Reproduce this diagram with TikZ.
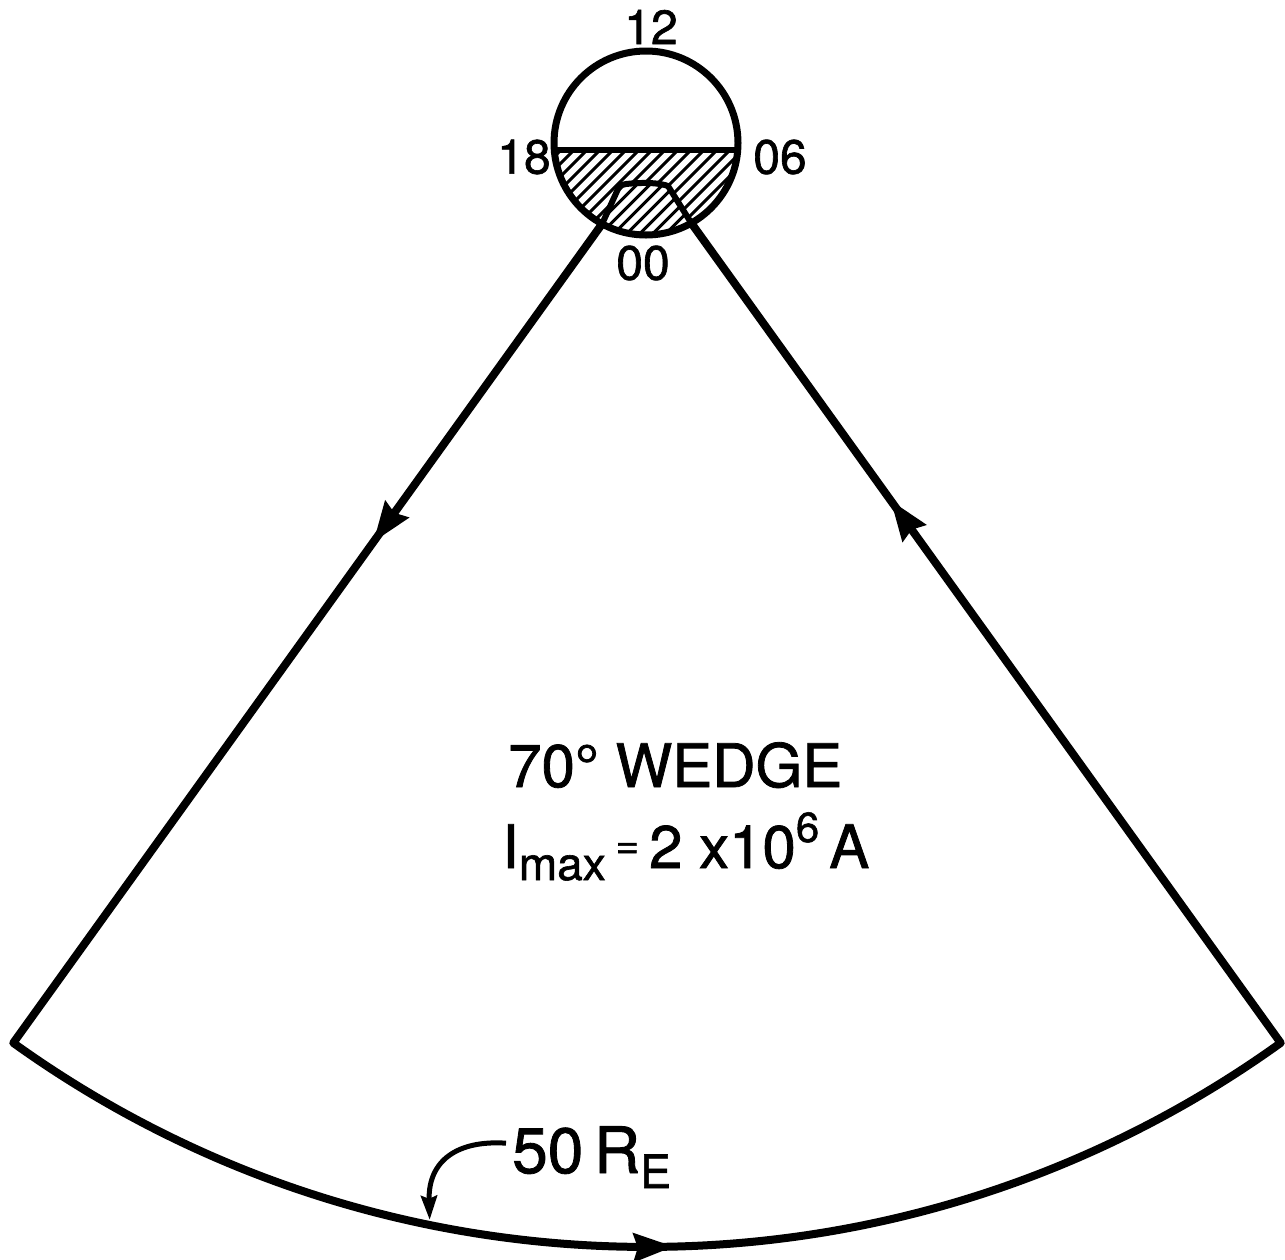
\documentclass[tikz,border=0pt]{standalone}
\usepackage{fontspec}
\setmainfont{TeX Gyre Heros}
\newfontfamily\lettering[FakeBold=1.3]{TeX Gyre Heros}
\usetikzlibrary{arrows.meta,decorations.markings}
\begin{document}
\begin{tikzpicture}[x=1pt,y=1pt,
  wedgeline/.style={line width=8pt, line join=round, line cap=round},
  hatchline/.style={line width=3pt},
  innerline/.style={line width=6pt, line join=round},
  headtip/.tip={Stealth[length=40pt,width=28pt,inset=4pt]},
  clocklbl/.style={inner sep=0pt, font=\lettering\fontsize{48}{48}\selectfont},
  textlbl/.style={inner sep=0pt, anchor=base west, font=\lettering\fontsize{60}{60}\selectfont},
  flowarrows/.style={postaction={decorate, decoration={markings,
     mark=at position 392pt with {\arrow{headtip}},
     mark=at position 1712pt with {\arrow{headtip}},
     mark=at position 3030pt with {\arrow{headtip}}}}}
]
\useasboundingbox (0,0) rectangle (1285,-1259);
\coordinate (C) at (646,-143);
\coordinate (A) at (647,-161);
\path (C) ++(241.5:92) coordinate (Lc);
\path (C) ++(299.5:92) coordinate (Rc);
\path (C) ++(-175.64:92) coordinate (ChL);
\path (C) ++(-4.36:92) coordinate (ChR);
\path (A) ++(234.3:1086) coordinate (L);
\path (A) ++(305.7:1086) coordinate (R);
\path (A) ++(258.4:1081) coordinate (tipE);
\coordinate (K1) at (618,-189);
\coordinate (K2) at (626,-184);
\coordinate (K3) at (668,-186);

% hatching of the night half
\begin{scope}
  \clip (ChR) arc[start angle=-4.36, end angle=-175.64, radius=92] -- cycle;
  \foreach \i in {-16,...,16}
    \draw[hatchline] ({646+13*\i-150},-293) -- ++(300,300);
\end{scope}
% inner region, hatched separately
\fill[white] (Lc) -- (K1) -- (K2) -- (K3) -- (Rc) arc[start angle=299.5, end angle=241.5, radius=92] -- cycle;
\begin{scope}
  \clip (Lc) -- (K1) -- (K2) -- (K3) -- (Rc) arc[start angle=299.5, end angle=241.5, radius=92] -- cycle;
  \foreach \i in {-16,...,16}
    \draw[hatchline] ({652.5+13*\i-150},-293) -- ++(300,300);
\end{scope}
\draw[innerline] (Lc) -- (K1) .. controls (621,-185) and (623,-184) .. (K2) .. controls (645,-182) and (660,-183) .. (K3) -- (Rc);

% earth
\node[draw, circle, line width=7pt, minimum size=184pt, inner sep=0pt, outer sep=0pt] (earth) at (C) {};
\draw[line width=6pt] (ChL) -- (ChR);

% wedge
\draw[wedgeline, flowarrows] (Lc) -- (L) arc[start angle=234.3, end angle=305.7, radius=1086] -- (Rc);

% clock labels
\node[clocklbl] (n12) at (651,-27) {12};
\node[clocklbl] (n18) at (524,-157) {18};
\node[clocklbl] (n06) at (780,-157) {06};
\node[clocklbl] (n00) at (643,-263) {00};

% texts
\node[textlbl] (wedge) at (508,-787) {70° WEDGE};
\node[textlbl] (imax) at (502,-868) {I\raisebox{-12pt}{\fontsize{46}{46}\selectfont max}\,\raisebox{10pt}{\fontsize{40}{40}\selectfont =}\,2 x10\raisebox{26pt}{\fontsize{42}{42}\selectfont 6}\,A};
\node[textlbl, font=\lettering\fontsize{64}{64}\selectfont] (re) at (512,-1173) {50\,R\raisebox{-15pt}{\fontsize{46}{46}\selectfont E}};

\draw[line width=5pt, -{Stealth[length=24pt,width=16pt,inset=3pt]}] ([xshift=-6pt,yshift=14pt]re.west) .. controls (458,-1140) and (428,-1160) .. (tipE);
\end{tikzpicture}
\end{document}
